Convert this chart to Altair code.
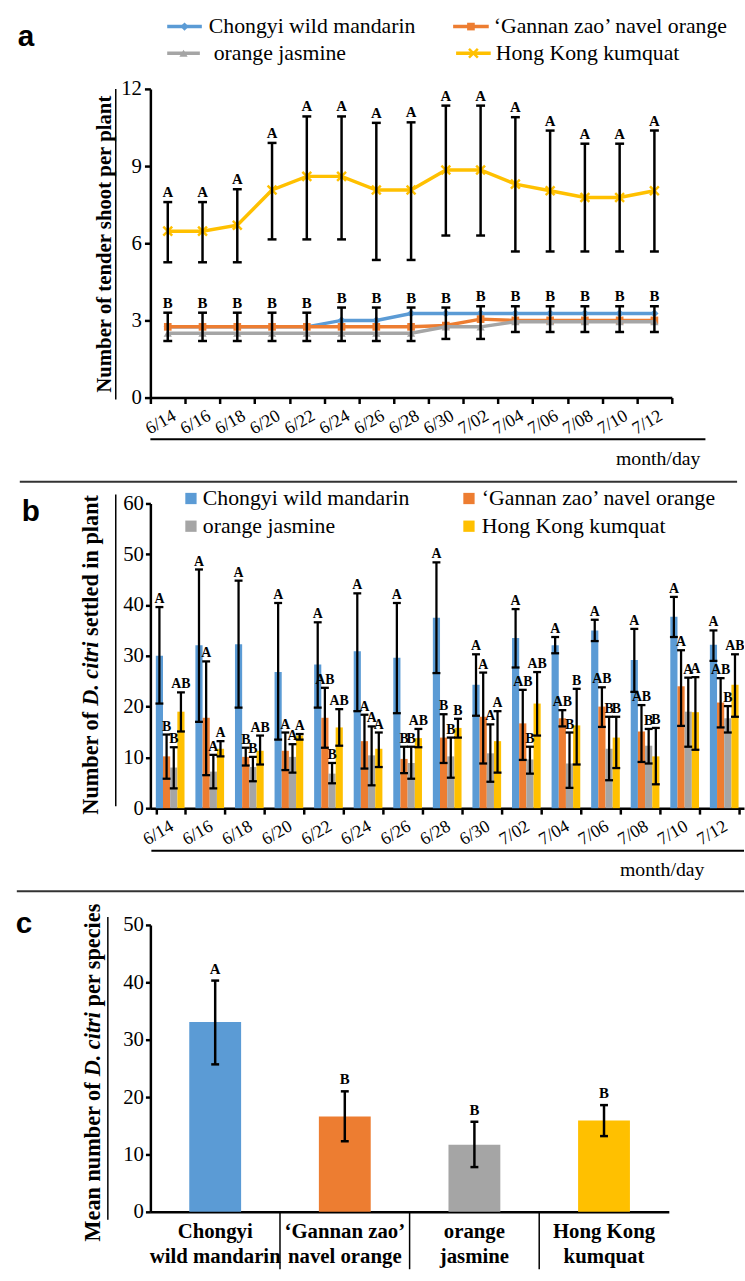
import altair as alt
import pandas as pd

SERIF = "Liberation Serif"
SANS = "Liberation Sans"

# ---------------- shared categories ----------------
dates = ["6/14", "6/16", "6/18", "6/20", "6/22", "6/24", "6/26", "6/28",
         "6/30", "7/02", "7/04", "7/06", "7/08", "7/10", "7/12"]
series = ["Chongyi wild mandarin", "‘Gannan zao’ navel orange",
          "orange jasmine", "Hong Kong kumquat"]
colors = ["#5B9BD5", "#ED7D31", "#A5A5A5", "#FFC000"]

# ---------------- panel a: tender shoots ----------------
shoot_chongyi = [2.75, 2.75, 2.75, 2.75, 2.75, 3.0, 3.0, 3.27, 3.27, 3.27, 3.27, 3.27, 3.27, 3.27, 3.27]
shoot_gannan = [2.75, 2.75, 2.75, 2.75, 2.75, 2.75, 2.75, 2.75, 2.8, 3.05, 3.0, 3.0, 3.0, 3.0, 3.0]
shoot_jasmine = [2.5, 2.5, 2.5, 2.5, 2.5, 2.5, 2.5, 2.5, 2.75, 2.75, 2.95, 2.95, 2.95, 2.95, 2.95]
shoot_kumquat = [6.47, 6.47, 6.7, 8.07, 8.6, 8.6, 8.07, 8.07, 8.85, 8.85, 8.3, 8.04, 7.78, 7.78, 8.04]
kumquat_hi = [7.6, 7.6, 8.1, 9.9, 10.93, 10.93, 10.68, 10.7, 11.35, 11.35, 10.9, 10.38, 9.87, 9.87, 10.38]
kumquat_lo = [5.26, 5.26, 5.26, 6.15, 6.15, 6.15, 5.35, 5.35, 6.3, 6.3, 5.68, 5.68, 5.68, 5.68, 5.68]
kumquat_letters = ["A", "A", "A", "A", "A", "A", "A", "A", "A", "A", "A", "A", "A", "A", "A"]
low_hi = [3.3, 3.3, 3.3, 3.3, 3.3, 3.5, 3.5, 3.5, 3.5, 3.55, 3.55, 3.55, 3.55, 3.55, 3.55]
low_lo = [2.2, 2.2, 2.2, 2.2, 2.2, 2.2, 2.2, 2.2, 2.28, 2.28, 2.55, 2.55, 2.55, 2.55, 2.55]
low_letters = ["B", "B", "B", "B", "B", "B", "B", "B", "B", "B", "B", "B", "B", "B", "B"]
y_ticks_a = [0, 3, 6, 9, 12]

# ---------------- panel b: D. citri settled ----------------
settled_chongyi = [30.0, 32.1, 32.3, 26.8, 28.3, 30.9, 29.6, 37.5, 24.3, 33.5, 32.1, 35.0, 29.2, 37.7, 32.2]
settled_chongyi_hi = [39.6, 47.0, 44.8, 40.4, 36.6, 42.3, 40.4, 48.4, 30.3, 39.2, 33.7, 37.1, 35.3, 41.6, 35.0]
settled_chongyi_lo = [20.6, 17.0, 19.8, 13.5, 19.8, 19.1, 18.7, 26.6, 18.2, 27.7, 30.5, 32.9, 22.9, 33.7, 29.0]
letters_chongyi = ["A", "A", "A", "A", "A", "A", "A", "A", "A", "A", "A", "A", "A", "A", "A"]

settled_gannan = [10.2, 17.8, 10.1, 11.3, 17.8, 13.2, 9.7, 13.9, 18.0, 16.7, 17.7, 20.0, 15.1, 24.0, 20.8]
settled_gannan_hi = [14.5, 28.9, 11.9, 14.9, 23.7, 18.4, 12.1, 18.5, 26.7, 23.3, 19.3, 23.8, 20.3, 31.1, 25.6]
settled_gannan_lo = [5.8, 6.5, 8.4, 7.5, 11.9, 7.8, 6.9, 8.9, 8.8, 9.5, 16.1, 16.0, 9.1, 16.2, 15.9]
letters_gannan = ["B", "A", "B", "A", "AB", "A", "B", "B", "A", "AB", "AB", "AB", "AB", "A", "AB"]

settled_jasmine = [8.0, 7.2, 8.1, 10.1, 6.8, 10.4, 8.9, 10.2, 10.8, 9.6, 8.8, 11.7, 12.3, 19.0, 17.7]
settled_jasmine_hi = [12.0, 10.5, 10.1, 12.6, 8.9, 16.1, 12.1, 13.9, 16.5, 12.1, 14.9, 18.0, 15.6, 25.7, 20.1]
settled_jasmine_lo = [3.9, 3.9, 5.3, 7.0, 4.9, 4.5, 5.8, 6.0, 5.2, 6.8, 4.0, 5.5, 8.8, 12.1, 14.9]
letters_jasmine = ["B", "A", "B", "A", "B", "A", "B", "B", "A", "B", "B", "B", "B", "A", "B"]

settled_kumquat = [19.0, 11.7, 11.3, 14.3, 15.9, 11.7, 13.8, 15.8, 13.2, 20.6, 16.3, 13.9, 10.2, 18.9, 24.3]
settled_kumquat_hi = [22.8, 13.2, 14.3, 14.6, 19.5, 14.9, 15.6, 17.6, 19.1, 26.8, 23.5, 18.0, 15.8, 25.8, 30.3]
settled_kumquat_lo = [15.1, 10.2, 8.6, 13.5, 12.3, 8.1, 12.0, 13.9, 7.0, 14.3, 8.6, 7.9, 4.7, 11.5, 18.0]
letters_kumquat = ["AB", "A", "AB", "A", "AB", "A", "AB", "B", "A", "AB", "B", "B", "B", "A", "AB"]
y_ticks_b = [0, 10, 20, 30, 40, 50, 60]

# ---------------- panel c: mean per species ----------------
mean_species = [33.1, 16.6, 11.7, 15.9]
mean_species_hi = [40.3, 21.0, 15.7, 18.6]
mean_species_lo = [25.7, 12.3, 7.8, 13.2]
letters_species = ["A", "B", "B", "B"]
species_label_lines = [["Chongyi", "wild mandarin"], ["‘Gannan zao’", "navel orange"],
                       ["orange", "jasmine"], ["Hong Kong", "kumquat"]]
y_ticks_c = [0, 10, 20, 30, 40, 50]

# ---------------- helpers for annotations ----------------
one = pd.DataFrame({"k": [0]})
PAGE_W = 745


def text_at(x, y, s, **kw):
    return alt.Chart(one).mark_text(text=s, **kw).encode(x=alt.value(x), y=alt.value(y))


def hline(x1, x2, y, **kw):
    return alt.Chart(one).mark_rule(**kw).encode(x=alt.value(x1), x2=alt.value(x2), y=alt.value(y))


def vline(x, y1, y2, **kw):
    return alt.Chart(one).mark_rule(**kw).encode(x=alt.value(x), y=alt.value(y1), y2=alt.value(y2))


def box(x0, y0, top, bottom):
    # invisible frame fixing the panel's extent on the page
    return [hline(-x0, PAGE_W - x0, top - y0, opacity=0, strokeWidth=0.5),
            hline(-x0, PAGE_W - x0, bottom - y0, opacity=0, strokeWidth=0.5)]


color_scale = alt.Scale(domain=series, range=colors)
color_enc = alt.Color("series:N", scale=color_scale, legend=None)

axis_common = dict(labelFont=SERIF, labelColor="black", domainColor="black", tickColor="black",
                   domainWidth=2.5, tickWidth=2.5, grid=False, title=None)

# ======================= PANEL A =======================
X0A, Y0A, WA, HA = 152, 83, 527, 312
shoot_values = [shoot_chongyi, shoot_gannan, shoot_jasmine, shoot_kumquat]
df_lines = pd.DataFrame([{"date_a": d, "series": s, "val": v}
                         for s, vals in zip(series, shoot_values)
                         for d, v in zip(dates, vals)])
df_err_k = pd.DataFrame({"date_a": dates, "lo": kumquat_lo, "hi": kumquat_hi, "letter": kumquat_letters})
df_err_low = pd.DataFrame({"date_a": dates, "lo": low_lo, "hi": low_hi, "letter": low_letters})

xa = alt.X("date_a:N", sort=dates,
           scale=alt.Scale(type="band", paddingInner=0, paddingOuter=0),
           axis=alt.Axis(labelAngle=-30, labelFontSize=18, labelPadding=3, tickBand="extent",
                         tickSize=6, labelOverlap=False, labelOffset=2, **axis_common))
ya_scale = alt.Scale(domain=[0, 12], nice=False)
ya_axis = alt.Axis(values=y_ticks_a, labelFontSize=21, tickSize=6, labelPadding=3, **axis_common)

XPATH = "M-1,-1L1,1M-1,1L1,-1"
marker_kw = [dict(shape="diamond", filled=True, size=70),
             dict(shape="square", filled=True, size=60),
             dict(shape="triangle-up", filled=True, size=70),
             dict(shape=XPATH, filled=False, size=80, strokeWidth=2.5)]

layers_a = []
for s, mk in zip(series, marker_kw):
    sub = df_lines[df_lines["series"] == s]
    base = alt.Chart(sub).encode(x=xa, y=alt.Y("val:Q", scale=ya_scale, axis=ya_axis), color=color_enc)
    layers_a.append(base.mark_line(strokeWidth=3.5))
    layers_a.append(base.mark_point(opacity=1, **mk))

for dfe in (df_err_low, df_err_k):
    eb = alt.Chart(dfe)
    layers_a.append(eb.mark_rule(color="black", strokeWidth=2.5).encode(
        x=xa, y=alt.Y("lo:Q", scale=ya_scale, axis=ya_axis), y2="hi:Q"))
    for fld in ("lo", "hi"):
        layers_a.append(eb.mark_tick(color="black", thickness=2.5, size=9, orient="horizontal", opacity=1).encode(
            x=xa, y=alt.Y(f"{fld}:Q", scale=ya_scale, axis=ya_axis)))
    layers_a.append(eb.mark_text(font=SERIF, fontWeight="bold", fontSize=15, baseline="bottom", dy=-2,
                                 color="black").encode(
        x=xa, y=alt.Y("hi:Q", scale=ya_scale, axis=ya_axis), text="letter:N"))

# legend a (line + marker + label)
leg_a_line = [(169, 204), (458, 494), (169, 202), (461, 496)]
leg_a_text_x = [211, 499, 216, 501]
leg_a_y = [20, 20, 47, 47]
for s, c, mk, (lx1, lx2), tx, ly in zip(series, colors, marker_kw, leg_a_line, leg_a_text_x, leg_a_y):
    layers_a.append(hline(lx1 - X0A, lx2 - X0A, ly - Y0A, color=c, strokeWidth=3.5))
    layers_a.append(alt.Chart(one).mark_point(color=c, opacity=1, **mk).encode(
        x=alt.value((lx1 + lx2) / 2 - X0A), y=alt.value(ly - Y0A)))
    layers_a.append(text_at(tx - X0A, ly - Y0A, s, font=SERIF, fontSize=22, align="left",
                            baseline="middle", color="black"))

layers_a += [
    text_at(18 - X0A, 40 - Y0A, "a", font=SANS, fontWeight="bold", fontSize=30, align="left",
            baseline="alphabetic", color="black"),
    text_at(106 - X0A, 240 - Y0A, "Number of tender shoot per plant", font=SERIF, fontWeight="bold",
            fontSize=21, angle=270, align="center", baseline="middle", color="black"),
    vline(117 - X0A, 83 - Y0A, 397 - Y0A, color="black", strokeWidth=1.5),
    hline(0, 713 - X0A, 437 - Y0A, color="black", strokeWidth=2),
    text_at(708 - X0A, 457 - Y0A, "month/day", font=SERIF, fontSize=20, align="right",
            baseline="middle", color="black"),
    hline(20 - X0A, PAGE_W - X0A, 480 - Y0A, color="#333333", strokeWidth=2),
]
layers_a += box(X0A, Y0A, 0, 484)
panel_a = alt.layer(*layers_a).properties(width=WA, height=HA)

# ======================= PANEL B =======================
X0B, Y0B, WB, HB = 145, 502, 600, 308
b_means = [settled_chongyi, settled_gannan, settled_jasmine, settled_kumquat]
b_his = [settled_chongyi_hi, settled_gannan_hi, settled_jasmine_hi, settled_kumquat_hi]
b_los = [settled_chongyi_lo, settled_gannan_lo, settled_jasmine_lo, settled_kumquat_lo]
b_letters = [letters_chongyi, letters_gannan, letters_jasmine, letters_kumquat]
df_b = pd.DataFrame([{"date_b": d, "series": s, "mean": m, "hi": h, "lo": l, "letter": t}
                     for s, ms, hs, ls, ts in zip(series, b_means, b_his, b_los, b_letters)
                     for d, m, h, l, t in zip(dates, ms, hs, ls, ts)])

xb = alt.X("date_b:N", sort=dates,
           scale=alt.Scale(type="band", paddingInner=0.275, paddingOuter=0.1375),
           axis=alt.Axis(labelAngle=-30, labelFontSize=18, labelPadding=3, tickBand="extent",
                         tickSize=6, labelOverlap=False, labelOffset=-3, **axis_common))
xob = alt.XOffset("series:N", sort=series, scale=alt.Scale(paddingInner=0, paddingOuter=0))
yb_scale = alt.Scale(domain=[0, 60], nice=False)
yb_axis = alt.Axis(values=y_ticks_b, labelFontSize=21, tickSize=5, labelPadding=2, **axis_common)

cb = alt.Chart(df_b)
layers_b = [
    cb.mark_bar().encode(x=xb, xOffset=xob, y=alt.Y("mean:Q", scale=yb_scale, axis=yb_axis), color=color_enc),
    cb.mark_rule(color="black", strokeWidth=2.3).encode(
        x=xb, xOffset=xob, y=alt.Y("lo:Q", scale=yb_scale, axis=yb_axis), y2="hi:Q"),
    cb.mark_tick(color="black", thickness=2.3, size=8, orient="horizontal", opacity=1).encode(
        x=xb, xOffset=xob, y=alt.Y("lo:Q", scale=yb_scale, axis=yb_axis)),
    cb.mark_tick(color="black", thickness=2.3, size=8, orient="horizontal", opacity=1).encode(
        x=xb, xOffset=xob, y=alt.Y("hi:Q", scale=yb_scale, axis=yb_axis)),
    cb.mark_text(font=SERIF, fontWeight="bold", fontSize=14, baseline="bottom", dy=-1, color="black",
                 clip=True).encode(
        x=xb, xOffset=xob, y=alt.Y("hi:Q", scale=yb_scale, axis=yb_axis), text="letter:N"),
]

leg_b_sq_x = [186, 467, 186, 467]
leg_b_text_x = [198, 480, 198, 480]
leg_b_y = [497, 497, 525, 525]
for s, c, sx, tx, ly in zip(series, colors, leg_b_sq_x, leg_b_text_x, leg_b_y):
    layers_b.append(alt.Chart(one).mark_square(color=c, size=130, opacity=1).encode(
        x=alt.value(sx - X0B), y=alt.value(ly - Y0B)))
    layers_b.append(text_at(tx - X0B, ly - Y0B, s, font=SERIF, fontSize=22, align="left",
                            baseline="middle", color="black"))

# y title with italic species name
FS_T = 22.5
seg_b = [("Number of", "normal", 0.0), ("D. citri", "italic", 4.888), ("settled in plant", "normal", 8.027)]
start_b = 655 + 14.361 * FS_T / 2
for txt, style, off in seg_b:
    layers_b.append(text_at(85 - X0B, start_b - off * FS_T - Y0B, txt, font=SERIF, fontWeight="bold",
                            fontStyle=style, fontSize=FS_T, angle=270, align="left",
                            baseline="middle", color="black"))

layers_b += [
    text_at(15 - X0B, 520 - Y0B, "b", font=SANS, fontWeight="bold", fontSize=30, align="left",
            baseline="alphabetic", color="black"),
    vline(110 - X0B, 493 - Y0B, 808 - Y0B, color="black", strokeWidth=1.5),
    hline(146 - X0B, PAGE_W - X0B, 853 - Y0B, color="black", strokeWidth=2),
    text_at(705 - X0B, 873 - Y0B, "month/day", font=SERIF, fontSize=20, align="right",
            baseline="middle", color="black"),
    hline(10 - X0B, PAGE_W - X0B, 894 - Y0B, color="#333333", strokeWidth=2),
]
layers_b += box(X0B, Y0B, 484, 898)
panel_b = alt.layer(*layers_b).properties(width=WB, height=HB)

# ======================= PANEL C =======================
X0C, Y0C, WC, HC = 151, 928, 524, 290
df_c = pd.DataFrame({"species": series, "mean_c": mean_species, "hi": mean_species_hi,
                     "lo": mean_species_lo, "letter": letters_species})

label_expr = ""
for s, lines in zip(series, species_label_lines):
    label_expr += "datum.value == '%s' ? ['%s', '%s'] : " % (s, lines[0], lines[1])
label_expr += "datum.value"

PAD_C = 0.6
xc_scale = alt.Scale(type="band", paddingInner=PAD_C, paddingOuter=PAD_C / 2)
xc_axis = alt.Axis(labelExpr=label_expr, labelAngle=0, labelFontSize=21, labelFontWeight="bold",
                   labelLineHeight=25, labelPadding=9, ticks=False, labelLimit=300,
                   labelOverlap=False, **axis_common)
xc = alt.X("species:N", sort=series, scale=xc_scale, axis=xc_axis)
xc_noaxis = alt.X("species:N", sort=series, scale=xc_scale, axis=None)
yc_scale = alt.Scale(domain=[0, 50], nice=False)
yc_axis = alt.Axis(values=y_ticks_c, labelFontSize=21, tickSize=5, labelPadding=2, **axis_common)

cc = alt.Chart(df_c)
layers_c = [
    cc.mark_bar().encode(x=xc, y=alt.Y("mean_c:Q", scale=yc_scale, axis=yc_axis),
                         color=alt.Color("species:N", scale=color_scale, legend=None)),
    cc.mark_rule(color="black", strokeWidth=2.5).encode(
        x=xc_noaxis, y=alt.Y("lo:Q", scale=yc_scale, axis=yc_axis), y2="hi:Q"),
    cc.mark_tick(color="black", thickness=2.5, size=8, orient="horizontal", opacity=1).encode(
        x=xc_noaxis, y=alt.Y("lo:Q", scale=yc_scale, axis=yc_axis)),
    cc.mark_tick(color="black", thickness=2.5, size=8, orient="horizontal", opacity=1).encode(
        x=xc_noaxis, y=alt.Y("hi:Q", scale=yc_scale, axis=yc_axis)),
    cc.mark_text(font=SERIF, fontWeight="bold", fontSize=15, baseline="bottom", dy=-4, color="black").encode(
        x=xc_noaxis, y=alt.Y("hi:Q", scale=yc_scale, axis=yc_axis), text="letter:N"),
    # category separators at the step boundaries (own band scale without padding)
    alt.Chart(pd.DataFrame({"species": series[1:]})).mark_rule(color="black", strokeWidth=1.5).encode(
        x=alt.X("species:N", sort=series,
                scale=alt.Scale(type="band", domain=series, paddingInner=0, paddingOuter=0),
                axis=None, bandPosition=0),
        y=alt.value(HC), y2=alt.value(HC + 58)),
]

seg_c = [("Mean number of", "normal", 0.0), ("D. citri", "italic", 7.416), ("per species", "normal", 10.555)]
start_c = 1077 + 15.193 * FS_T / 2
for txt, style, off in seg_c:
    layers_c.append(text_at(93 - X0C, start_c - off * FS_T - Y0C, txt, font=SERIF, fontWeight="bold",
                            fontStyle=style, fontSize=FS_T, angle=270, align="left",
                            baseline="middle", color="black"))

layers_c += [
    text_at(15 - X0C, 936 - Y0C, "c", font=SANS, fontWeight="bold", fontSize=30, align="left",
            baseline="alphabetic", color="black"),
    vline(108 - X0C, 920 - Y0C, 1226 - Y0C, color="black", strokeWidth=1.5),
]
layers_c += box(X0C, Y0C, 898, 1276)
panel_c = alt.layer(*layers_c).resolve_scale(x="independent").properties(width=WC, height=HC)

chart = (
    alt.vconcat(panel_a, panel_b, panel_c, spacing=0)
    .resolve_scale(x="independent", y="independent")
    .properties(padding={"left": 0, "top": 0, "right": 0, "bottom": 0})
    .configure_view(stroke=None)
    .configure_axis(grid=False)
)

chart.save("out.html", embed_options={"renderer": "svg", "actions": False})
